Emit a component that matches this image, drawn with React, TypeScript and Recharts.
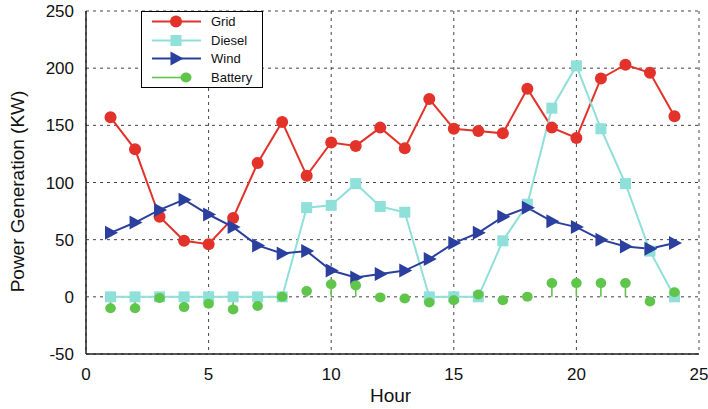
import { ComposedChart, Line, ErrorBar, XAxis, YAxis, CartesianGrid, Label } from "recharts";

const hours = [1, 2, 3, 4, 5, 6, 7, 8, 9, 10, 11, 12, 13, 14, 15, 16, 17, 18, 19, 20, 21, 22, 23, 24];
const grid = [157, 129, 70, 49, 46, 69, 117, 153, 106, 135, 132, 148, 130, 173, 147, 145, 143, 182, 148, 139, 191, 203, 196, 158];
const diesel = [0, 0, 0, 0, 0, 0, 0, 0, 78, 80, 99, 79, 74, 0, 0, 0, 49, 81, 165, 202, 147, 99, 40, 0];
const wind = [56, 65, 76, 85, 72, 61, 45, 38, 40, 23, 17, 20, 23, 33, 47, 56, 70, 78, 66, 61, 50, 44, 42, 47];
const battery = [-10, -10, -1, -9, -6, -11, -8, 0, 5, 11, 10, -0.5, -1.5, -5, -3, 2, -3, 0, 12, 12, 12, 12, -4, 4];

const xTicks = [0, 5, 10, 15, 20, 25];
const yTicks = [-50, 0, 50, 100, 150, 200, 250];

const RED = "#e2322a";
const CYAN = "#8fe0d9";
const BLUE = "#2b3f9e";
const GREEN = "#5fc64b";
const FONT = "'Liberation Sans', Arial, sans-serif";

// stems run from 0 to the value, drawn as asymmetric error bars
const data = hours.map((h, i) => ({
  hour: h,
  grid: grid[i],
  diesel: diesel[i],
  wind: wind[i],
  battery: battery[i],
  stem: battery[i] >= 0 ? [battery[i], 0] : [0, -battery[i]],
}));

const Circle = (props: any) => {
  const { cx, cy, index } = props;
  if (cx == null || cy == null) return null;
  return <circle key={index} cx={cx} cy={cy} r={6} fill={RED} />;
};

const Square = (props: any) => {
  const { cx, cy, index } = props;
  if (cx == null || cy == null) return null;
  return <rect key={index} x={cx - 5.5} y={cy - 5.5} width={11} height={11} fill={CYAN} />;
};

const Triangle = (props: any) => {
  const { cx, cy, index } = props;
  if (cx == null || cy == null) return null;
  return (
    <polygon
      key={index}
      points={`${cx - 5.5},${cy - 7} ${cx + 7.5},${cy} ${cx - 5.5},${cy + 7}`}
      fill={BLUE}
    />
  );
};

const Dot = (props: any) => {
  const { cx, cy, index } = props;
  if (cx == null || cy == null) return null;
  return <ellipse key={index} cx={cx} cy={cy} rx={5.3} ry={5} fill={GREEN} />;
};

function LegendBox() {
  const rows = [
    { name: "Grid", y: 10.5 },
    { name: "Diesel", y: 29.5 },
    { name: "Wind", y: 47.5 },
    { name: "Battery", y: 66.5 },
  ];
  return (
    <div
      style={{
        position: "absolute",
        left: 141,
        top: 11,
        width: 122,
        height: 77,
        background: "#fff",
        border: "1px solid #000",
        boxSizing: "border-box",
      }}
    >
      <svg width={122} height={77} style={{ position: "absolute", left: -1, top: -1 }}>
        <line x1={11} x2={60} y1={rows[0].y} y2={rows[0].y} stroke={RED} strokeWidth={2} />
        <circle cx={35} cy={rows[0].y} r={6} fill={RED} />
        <line x1={11} x2={60} y1={rows[1].y} y2={rows[1].y} stroke={CYAN} strokeWidth={2} />
        <rect x={29.5} y={rows[1].y - 5.5} width={11} height={11} fill={CYAN} />
        <line x1={11} x2={60} y1={rows[2].y} y2={rows[2].y} stroke={BLUE} strokeWidth={2} />
        <polygon
          points={`${29.5},${rows[2].y - 7} ${42.5},${rows[2].y} ${29.5},${rows[2].y + 7}`}
          fill={BLUE}
        />
        <line x1={11} x2={42} y1={rows[3].y} y2={rows[3].y} stroke={GREEN} strokeWidth={1.6} />
        <ellipse cx={45} cy={rows[3].y} rx={5.5} ry={5} fill={GREEN} />
        {rows.map((r) => (
          <text key={r.name} x={70} y={r.y + 4.5} fontFamily={FONT} fontSize={13} fill="#111">
            {r.name}
          </text>
        ))}
      </svg>
    </div>
  );
}

export default function App() {
  const tickStyle = { fontSize: 17, fill: "#111", fontFamily: FONT };
  return (
    <div style={{ position: "absolute", left: 0, top: 0, width: 708, height: 409, background: "#fff" }}>
      <ComposedChart
        width={708}
        height={409}
        data={data}
        margin={{ top: 11, right: 9, bottom: 0, left: 0 }}
      >
        <CartesianGrid stroke="#444" strokeDasharray="3 4" />
        <XAxis
          dataKey="hour"
          type="number"
          domain={[0, 25]}
          ticks={xTicks}
          interval={0}
          height={55}
          tick={tickStyle}
          tickLine={false}
          tickMargin={8}
          axisLine={{ stroke: "#222", strokeWidth: 1.5 }}
          allowDataOverflow
        >
          <Label value="Hour" position="center" dy={14} dx={-2} style={{ fontSize: 19, fill: "#111", fontFamily: FONT }} />
        </XAxis>
        <XAxis
          xAxisId="top"
          orientation="top"
          type="number"
          domain={[0, 25]}
          height={0}
          tick={false}
          tickLine={false}
          axisLine={{ stroke: "#222", strokeWidth: 1.5 }}
        />
        <YAxis
          type="number"
          domain={[-50, 250]}
          ticks={yTicks}
          interval={0}
          width={86}
          tick={tickStyle}
          tickLine={false}
          tickMargin={6}
          axisLine={{ stroke: "#222", strokeWidth: 1.5 }}
          allowDataOverflow
        >
          <Label
            value="Power Generation (KW)"
            angle={-90}
            position="center"
            dx={-26}
            dy={9}
            style={{ fontSize: 19, fill: "#111", fontFamily: FONT, textAnchor: "middle" }}
          />
        </YAxis>
        <YAxis
          yAxisId="right"
          orientation="right"
          type="number"
          domain={[-50, 250]}
          width={0}
          tick={false}
          tickLine={false}
          axisLine={{ stroke: "#222", strokeWidth: 1.5 }}
        />
        <Line dataKey="grid" stroke={RED} strokeWidth={2} dot={Circle} activeDot={false} isAnimationActive={false} />
        <Line dataKey="diesel" stroke={CYAN} strokeWidth={2} dot={Square} activeDot={false} isAnimationActive={false} />
        <Line dataKey="wind" stroke={BLUE} strokeWidth={2} dot={Triangle} activeDot={false} isAnimationActive={false} />
        <Line dataKey="battery" stroke="none" dot={Dot} activeDot={false} isAnimationActive={false}>
          <ErrorBar dataKey="stem" direction="y" width={0} stroke={GREEN} strokeWidth={1.6} isAnimationActive={false} />
        </Line>
      </ComposedChart>
      <LegendBox />
    </div>
  );
}
